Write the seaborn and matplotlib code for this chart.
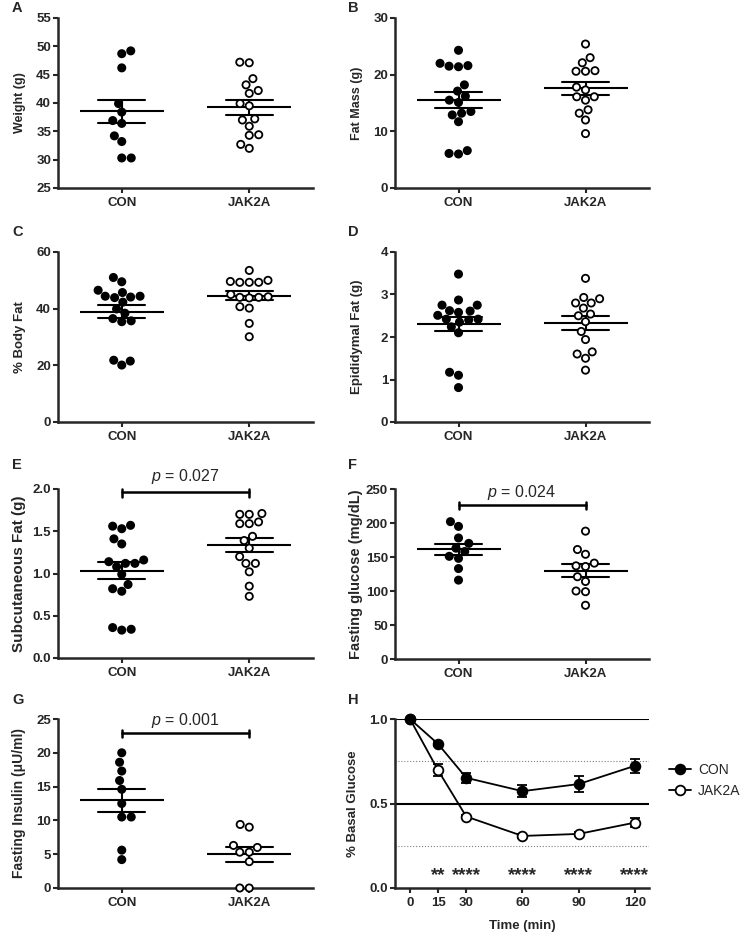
import numpy as np
import pandas as pd
import matplotlib
matplotlib.use('Agg')
import matplotlib.pyplot as plt
import seaborn as sns

groups = ['CON', 'JAK2A']

# A - body weight (g)
weight_con = [49.2, 48.7, 46.2, 39.9, 38.4, 36.9, 36.4, 34.2, 33.2, 30.3, 30.3]
weight_jak = [47.1, 47.2, 44.3, 43.2, 42.2, 41.7, 39.9, 39.5, 37.0, 37.2, 35.9, 34.4, 34.3, 32.7, 32.0]

# B - fat mass (g)
fatmass_con = [24.3, 21.6, 21.5, 21.4, 22.0, 18.2, 17.1, 16.2, 15.5, 15.1, 13.5, 13.2, 12.9, 11.7, 6.6, 6.0, 6.1]
fatmass_jak = [25.4, 23.0, 22.1, 20.7, 20.6, 20.6, 17.8, 17.3, 16.1, 16.1, 15.5, 13.8, 13.2, 12.0, 9.6]

# C - % body fat
bodyfat_con = [51.0, 49.5, 46.5, 45.7, 44.4, 44.1, 43.9, 44.4, 42.3, 39.9, 38.4, 36.5, 35.7, 35.4, 21.8, 21.5, 20.1]
bodyfat_jak = [53.5, 50.0, 49.3, 49.3, 49.3, 49.6, 44.0, 44.2, 44.0, 45.0, 43.8, 40.2, 40.7, 34.8, 30.1]

# D - epididymal fat (g)
epi_con = [3.48, 2.87, 2.75, 2.75, 2.61, 2.51, 2.62, 2.58, 2.40, 2.42, 2.42, 2.35, 2.24, 2.10, 1.17, 1.10, 0.81]
epi_jak = [3.38, 2.93, 2.90, 2.80, 2.80, 2.68, 2.54, 2.50, 2.36, 2.13, 1.94, 1.65, 1.60, 1.50, 1.22]

# E - subcutaneous fat (g)
subq_con = [1.57, 1.53, 1.56, 1.41, 1.35, 1.14, 1.12, 1.08, 1.12, 1.16, 0.99, 0.87, 0.82, 0.79, 0.36, 0.33, 0.34]
subq_jak = [1.70, 1.70, 1.71, 1.59, 1.59, 1.61, 1.44, 1.39, 1.30, 1.20, 1.12, 1.12, 1.02, 0.85, 0.73]

# F - fasting glucose (mg/dL)
glucose_con = [202, 195, 178, 170, 163, 158, 151, 148, 133, 116]
glucose_jak = [188, 161, 154, 141, 136, 137, 121, 114, 100, 99, 79]

# G - fasting insulin (uU/ml)
insulin_con = [20.0, 18.6, 17.3, 15.9, 14.6, 12.5, 10.5, 10.5, 5.6, 4.2]
insulin_jak = [9.4, 9.0, 6.3, 6.0, 5.3, 5.3, 3.9, 0.0, 0.0]

# H - glucose tolerance, fraction of basal
time_min = [0, 15, 30, 60, 90, 120]
gtt_con = [1.0, 0.852, 0.652, 0.573, 0.615, 0.723]
gtt_con_sem = [0.0, 0.01, 0.03, 0.034, 0.046, 0.04]
gtt_jak = [1.0, 0.696, 0.423, 0.308, 0.320, 0.387]
gtt_jak_sem = [0.0, 0.035, 0.01, 0.01, 0.01, 0.025]
gtt_stars = ['', '**', '****', '****', '****', '****']

sns.set_style('ticks')
plt.rcParams['font.family'] = ['Liberation Sans', 'DejaVu Sans']
plt.rcParams['font.weight'] = 'bold'
plt.rcParams['axes.labelweight'] = 'bold'
plt.rcParams['mathtext.fontset'] = 'custom'
plt.rcParams['mathtext.it'] = 'Liberation Sans:italic:normal'
plt.rcParams['mathtext.rm'] = 'Liberation Sans:normal'

fig = plt.figure(figsize=(7.46, 9.36), dpi=100)

W, H = 746, 936
def add_axes(x0, top, x1, bottom):
    return fig.add_axes([x0 / W, 1 - bottom / H, (x1 - x0) / W, (bottom - top) / H])

def style_axes(ax, ylabel, label_size):
    sns.despine(ax=ax)
    for s in ['left', 'bottom']:
        ax.spines[s].set_linewidth(1.8)
    ax.tick_params(direction='out', length=3.5, width=1.5, labelsize=9.5, pad=1.5)
    ax.tick_params(axis='x', pad=3)
    ax.set_ylabel(ylabel, fontsize=label_size)
    ax.yaxis.set_label_coords(-0.125, 0.5)
    ax.set_xlabel('')

def dot_panel(ax, con, jak, ylabel, ylim, yticks, fmt, label_size):
    df = pd.DataFrame({'group': ['CON'] * len(con) + ['JAK2A'] * len(jak),
                       'value': con + jak})
    sns.swarmplot(data=df, x='group', y='value', hue='group', order=groups,
                  palette={'CON': 'black', 'JAK2A': 'white'}, edgecolor='black',
                  linewidth=1.3, size=5.2, legend=False, ax=ax, clip_on=False)
    sns.pointplot(data=df, x='group', y='value', order=groups, errorbar='se',
                  color='black', markers='_', linestyles='none', capsize=0.37,
                  markersize=60, markeredgewidth=1.5,
                  err_kws={'linewidth': 1.5}, ax=ax)
    ax.set_xlim(-0.5, 1.5)
    ax.set_ylim(*ylim)
    ax.set_yticks(yticks)
    ax.set_yticklabels([fmt.format(t) for t in yticks])
    style_axes(ax, ylabel, label_size)

def p_bracket(ax, text, y, cap, ty):
    ax.plot([0, 0, 1, 1], [y - cap, y, y, y - cap], color='black', lw=1.8,
            clip_on=False)
    ax.plot([0, 0], [y, y + cap * 0.6], color='black', lw=1.8, clip_on=False)
    ax.plot([1, 1], [y, y + cap * 0.6], color='black', lw=1.8, clip_on=False)
    ax.text(0.5, ty, text, ha='center', va='center', fontsize=11.5,
            fontweight='normal')

axA = add_axes(58, 18, 313, 188)
dot_panel(axA, weight_con, weight_jak, 'Weight (g)', (25, 55), [25, 30, 35, 40, 45, 50, 55], '{:.0f}', 9)

axB = add_axes(395, 18, 649, 188)
dot_panel(axB, fatmass_con, fatmass_jak, 'Fat Mass (g)', (0, 30), [0, 10, 20, 30], '{:.0f}', 9)

axC = add_axes(58, 252, 313, 422)
dot_panel(axC, bodyfat_con, bodyfat_jak, '% Body Fat', (0, 60), [0, 20, 40, 60], '{:.0f}', 9.5)

axD = add_axes(395, 252, 649, 422)
dot_panel(axD, epi_con, epi_jak, 'Epididymal Fat (g)', (0, 4), [0, 1, 2, 3, 4], '{:.0f}', 9.5)

axE = add_axes(58, 489, 313, 658)
dot_panel(axE, subq_con, subq_jak, 'Subcutaneous Fat (g)', (0, 2), [0, 0.5, 1.0, 1.5, 2.0], '{:.1f}', 11)
p_bracket(axE, '$p$ = 0.027', 1.96, 0.06, 2.15)

axF = add_axes(395, 489, 649, 659)
dot_panel(axF, glucose_con, glucose_jak, 'Fasting glucose (mg/dL)', (0, 250), [0, 50, 100, 150, 200, 250], '{:.0f}', 10.5)
p_bracket(axF, '$p$ = 0.024', 227, 7, 245)

axG = add_axes(58, 719, 313, 888)
dot_panel(axG, insulin_con, insulin_jak, 'Fasting Insulin (\u03bcU/ml)', (0, 25), [0, 5, 10, 15, 20, 25], '{:.0f}', 10)
p_bracket(axG, '$p$ = 0.001', 23, 0.7, 24.8)

# H - glucose tolerance curve
axH = add_axes(395, 719, 649, 888)
for yv in [1.0, 0.5]:
    axH.axhline(yv, color='black', lw=1.5, zorder=1)
for yv in [0.75, 0.25]:
    axH.axhline(yv, color='grey', lw=0.8, ls=':', zorder=1)

gtt_df = pd.DataFrame({'time': time_min * 2,
                       'group': ['CON'] * len(time_min) + ['JAK2A'] * len(time_min),
                       'value': gtt_con + gtt_jak,
                       'sem': gtt_con_sem + gtt_jak_sem})
for g, fc in [('JAK2A', 'white'), ('CON', 'black')]:
    sub = gtt_df[gtt_df['group'] == g]
    axH.errorbar(sub['time'], sub['value'], yerr=sub['sem'], fmt='none',
                 ecolor='black', elinewidth=1.3, capsize=3.5, capthick=1.3, zorder=2)
    sns.lineplot(data=sub, x='time', y='value', color='black', marker='o',
                 markersize=7, markerfacecolor=fc, markeredgecolor='black',
                 markeredgewidth=1.3, linewidth=1.3, label=g, ax=axH, zorder=3,
                 clip_on=False)

for t, s in zip(time_min, gtt_stars):
    if s:
        axH.text(t, 0.075, s, ha='center', va='center', fontsize=13.5)

axH.set_xlim(-8, 127.5)
axH.set_ylim(0, 1.0)
axH.set_xticks(time_min)
axH.set_yticks([0.0, 0.5, 1.0])
axH.set_yticklabels(['0.0', '0.5', '1.0'])
style_axes(axH, '% Basal Glucose', 9.5)
axH.yaxis.set_label_coords(-0.14, 0.5)
axH.set_xlabel('Time (min)', fontsize=9.5, labelpad=8)

handles, labels = axH.get_legend_handles_labels()
order = [labels.index('CON'), labels.index('JAK2A')]
axH.legend([handles[i] for i in order], [labels[i] for i in order],
           loc='center left', bbox_to_anchor=(1.05, 0.635), frameon=False,
           prop={'weight': 'normal', 'size': 10}, handlelength=1.6,
           handletextpad=0.5, labelspacing=0.5, borderpad=0)

for letter, (x, y) in zip('ABCDEFGH', [(12, 8), (348, 8), (12, 232), (348, 232),
                                       (12, 465), (348, 465), (12, 700), (348, 700)]):
    fig.text(x / W, 1 - y / H, letter, fontsize=10.5, fontweight='heavy',
             ha='left', va='center')

fig.savefig('out.png', dpi=100)
